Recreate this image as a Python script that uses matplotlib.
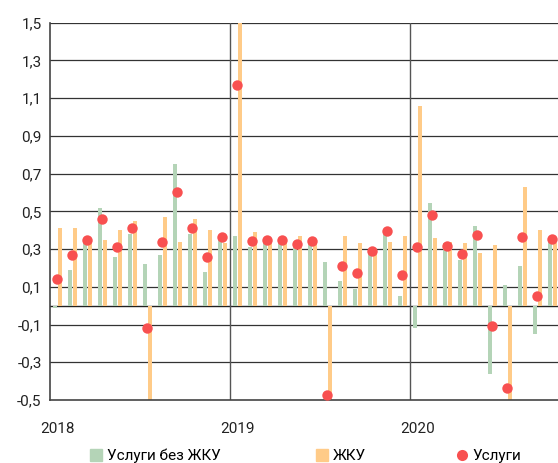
import numpy as np
import matplotlib
matplotlib.use("Agg")
from matplotlib import pyplot as plt
from matplotlib.lines import Line2D
from matplotlib.patches import Patch

# monthly data, Jan 2018 - Oct 2020
services_ex_housing = [-0.01, 0.19, 0.35, 0.52, 0.26, 0.38, 0.22, 0.27, 0.75, 0.38,
                       0.18, 0.35, 0.37, 0.31, 0.34, 0.35, 0.31, 0.34, 0.23, 0.13,
                       0.09, 0.28, 0.38, 0.05, -0.12, 0.545, 0.33, 0.24, 0.42, -0.36,
                       0.11, 0.21, -0.15, 0.34]
housing = [0.41, 0.41, 0.34, 0.35, 0.40, 0.45, -0.52, 0.47, 0.34, 0.46,
           0.40, 0.33, 1.52, 0.39, 0.33, 0.33, 0.37, 0.33, -0.52, 0.37,
           0.33, 0.29, 0.34, 0.37, 1.06, 0.36, 0.34, 0.33, 0.28, 0.32,
           -0.52, 0.63, 0.40, 0.33]
services = [0.14, 0.27, 0.35, 0.46, 0.31, 0.41, -0.12, 0.34, 0.60, 0.41,
            0.26, 0.365, 1.17, 0.345, 0.35, 0.35, 0.325, 0.345, -0.475, 0.21,
            0.175, 0.29, 0.395, 0.165, 0.31, 0.48, 0.315, 0.275, 0.375, -0.11,
            -0.435, 0.365, 0.05, 0.355]
year_labels = ['2018', '2019', '2020']

plt.rcParams['font.family'] = ['Roboto', 'DejaVu Sans']

green = '#b4d4b7'
orange = '#ffcb88'
red = '#f85050'

fig = plt.figure(figsize=(5.58, 4.63), dpi=100)
ax = fig.add_axes([50 / 558, 1 - 400 / 463, 1 - 50 / 558, (400 - 22.7) / 463])

x = np.arange(len(services))
w = 0.3
ax.bar(x - w / 2 - 0.02, services_ex_housing, width=w, color=green, zorder=2)
ax.bar(x + w / 2 + 0.02, housing, width=w, color=orange, zorder=2)
ax.plot(x, services, 'o', color=red, markersize=7.5, zorder=4,
        markeredgewidth=0, clip_on=False)

ax.set_ylim(-0.5, 1.5)
ax.set_xlim(-0.5, 33.37)
yt = np.arange(-0.5, 1.51, 0.2)
ax.set_yticks(yt)
ax.set_yticklabels([f'{v:.1f}'.replace('.', ',') for v in yt])
for v in yt[1:]:
    ax.axhline(v, color='#333333', lw=0.9, zorder=1)
ax.axhline(0, color='#222222', lw=1.0, zorder=1)
for k in (1, 2):
    ax.axvline(12 * k - 0.5, color='#555555', lw=1.0, zorder=1)

# year labels sit under the first month of each year
ax.set_xticks([0, 12, 24])
ax.set_xticklabels(year_labels)
ax.tick_params(length=0, labelsize=11, colors='#222222')
ax.tick_params(axis='x', pad=16)
ax.tick_params(axis='y', pad=6)
for s in ('top', 'right'):
    ax.spines[s].set_visible(False)
for s in ('left', 'bottom'):
    ax.spines[s].set_color('#444444')
    ax.spines[s].set_linewidth(1.2)
    ax.spines[s].set_zorder(3)

handles = [Patch(color=green), Patch(color=orange),
           Line2D([], [], marker='o', ls='', color=red, markersize=8, markeredgewidth=0)]
labels = ['Услуги без ЖКУ', 'ЖКУ', 'Услуги']
anchors = [90 / 558, 316 / 558, 456 / 558]
for h, lab, a in zip(handles, labels, anchors):
    fig.legend([h], [lab], loc='center left', bbox_to_anchor=(a, 1 - 456 / 463),
               frameon=False, fontsize=11, handlelength=0.8, handletextpad=0.3,
               handleheight=0.9, borderpad=0, borderaxespad=0)

fig.savefig('out.png', dpi=100)
